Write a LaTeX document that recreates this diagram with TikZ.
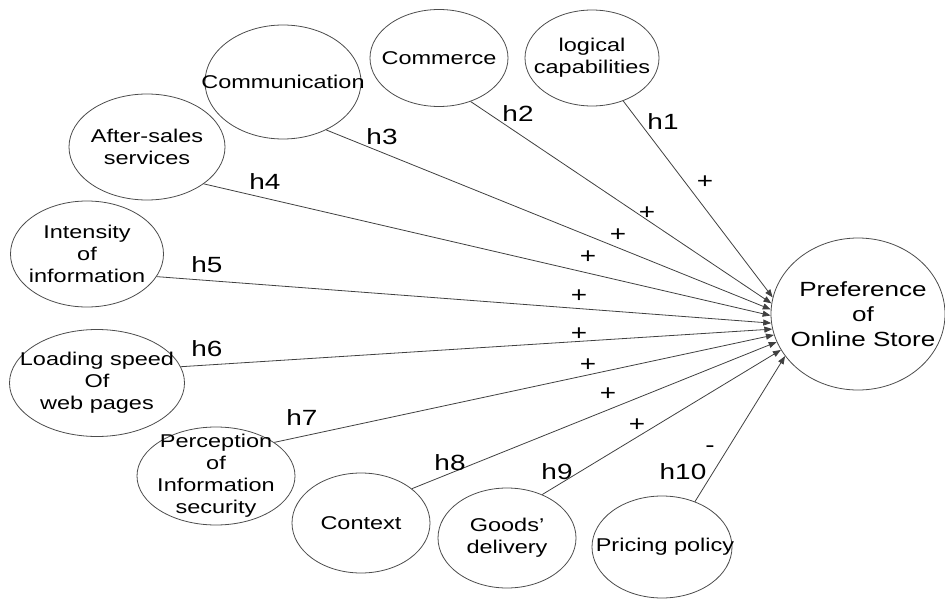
\documentclass[tikz,border=0pt]{standalone}
\usepackage{fontspec}
\setmainfont[FakeStretch=1.27]{Liberation Sans}
\usetikzlibrary{shapes.geometric,arrows.meta}
\begin{document}
\begin{tikzpicture}[x=1pt,y=-1pt,
  oval/.style={ellipse, draw=black!70, line width=0.8pt, inner sep=0pt},
  nodetext/.style={font=\fontsize{18.5}{22}\selectfont, align=center, inner sep=0pt},
  bigtext/.style={font=\fontsize{20.5}{25}\selectfont, align=center, inner sep=0pt},
  link/.style={draw=black!75, line width=0.8pt, -{Triangle[length=8pt,width=6pt]}},
  hyp/.style={font=\fontsize{22}{22}\selectfont, inner sep=0pt},
  sign/.style={font=\fontsize{22}{22}\selectfont, inner sep=0pt}]

\useasboundingbox (0,0) rectangle (945,599);

% outcome construct
\node[oval, minimum width=174pt, minimum height=152pt,
      label={[bigtext, xshift=5pt]center:Preference\\of\\Online Store}] (pref) at (858,314) {};

% antecedent constructs
\node[oval, minimum width=134pt, minimum height=96pt,
      label={[nodetext]center:logical\\capabilities}] (logic) at (592,58) {};
\node[oval, minimum width=138pt, minimum height=97pt,
      label={[nodetext]center:Commerce}] (comm) at (439,58) {};
\node[oval, minimum width=156pt, minimum height=114pt,
      label={[nodetext]center:Communication}] (commu) at (283,82) {};
\node[oval, minimum width=156pt, minimum height=106pt,
      label={[nodetext]center:After-sales\\services}] (after) at (147,147) {};
\node[oval, minimum width=153pt, minimum height=106pt,
      label={[nodetext]center:Intensity\\of\\information}] (inten) at (87,254) {};
\node[oval, minimum width=175pt, minimum height=107pt,
      label={[nodetext]center:Loading speed\\Of\\web pages}] (load) at (97,383) {};
\node[oval, minimum width=158pt, minimum height=98pt,
      label={[nodetext]center:Perception\\of\\Information\\security}] (perc) at (216,476) {};
\node[oval, minimum width=138pt, minimum height=100pt,
      label={[nodetext]center:Context}] (context) at (361,523) {};
\node[oval, minimum width=138pt, minimum height=100pt,
      label={[nodetext]center:Goods’\\delivery}] (goods) at (507,538) {};
\node[oval, minimum width=140pt, minimum height=102pt,
      label={[nodetext, xshift=3pt]center:Pricing policy}] (price) at (662,547) {};

% hypothesised paths
\draw[link] (logic.-54)   -- (pref.169);
\draw[link] (comm.-54)    -- (pref.173);
\draw[link] (commu.-48)   -- (pref.177);
\draw[link] (after.-33)   -- (pref.181);
\draw[link] (inten.-18)   -- (pref.186);
\draw[link] (load.11)     -- (pref.190);
\draw[link] (perc.30)     -- (pref.194);
\draw[link] (context.34)  -- (pref.199);
\draw[link] (goods.51)    -- (pref.205);
\draw[link] (price.54)    -- (pref.210);

% hypothesis labels
\node[hyp] (lh1)  at (663,122) {h1};
\node[hyp] (lh2)  at (518,114) {h2};
\node[hyp] (lh3)  at (382,137) {h3};
\node[hyp] (lh4)  at (265,182) {h4};
\node[hyp] (lh5)  at (207,265) {h5};
\node[hyp] (lh6)  at (207,349) {h6};
\node[hyp] (lh7)  at (302,418) {h7};
\node[hyp] (lh8)  at (450,463) {h8};
\node[hyp] (lh9)  at (557,472) {h9};
\node[hyp] (lh10) at (683,472) {h10};

% expected signs
\node[sign] (s1) at (705,182) {+};
\node[sign] (s2) at (647,213) {+};
\node[sign] (s3) at (618,235) {+};
\node[sign] (s4) at (588,257) {+};
\node[sign] (s5) at (579,296) {+};
\node[sign] (s6) at (579,334) {+};
\node[sign] (s7) at (588,365) {+};
\node[sign] (s8) at (608,394) {+};
\node[sign] (s9) at (637,425) {+};
\node[sign] (s10) at (710,449) {-};
\end{tikzpicture}
\end{document}
